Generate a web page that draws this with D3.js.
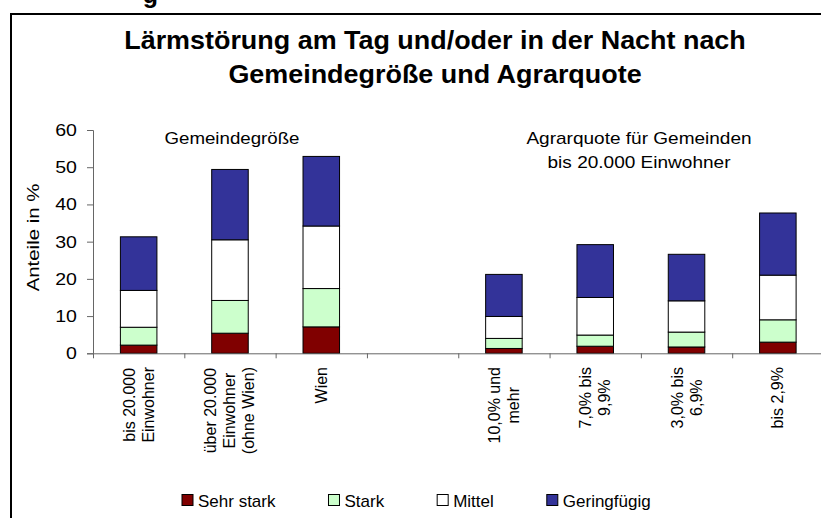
<!DOCTYPE html>
<html>
<head>
<meta charset="utf-8">
<script src="https://cdn.jsdelivr.net/npm/d3@7"></script>
<style>
  body { margin: 0; background: #fff; }
  svg { display: block; font-family: "Liberation Sans", Arial, sans-serif; }
</style>
</head>
<body>
<script>
// categories (blank slot separates the two groups)
var categories = ["bis20", "ueber20", "wien", "gap", "q10", "q7", "q3", "q0"];
var catLabels = [
    ["bis 20.000", "Einwohner"],
    ["über 20.000", "Einwohner", "(ohne Wien)"],
    ["Wien"],
    [],
    ["10,0% und", "mehr"],
    ["7,0% bis", "9,9%"],
    ["3,0% bis", "6,9%"],
    ["bis 2,9%"]
];
var seriesNames = ["Sehr stark", "Stark", "Mittel", "Geringfügig"];
var seriesColors = ["#800000", "#CCFFCC", "#FFFFFF", "#333399"];
var sehrStark   = [2.2, 5.4, 7.1, 0, 1.3, 1.9, 1.7, 3.0];
var stark       = [4.8, 8.8, 10.3, 0, 2.7, 3.0, 4.0, 6.0];
var mittel      = [9.9, 16.3, 16.8, 0, 5.9, 10.1, 8.4, 12.0];
var geringfuegig = [14.4, 18.9, 18.7, 0, 11.3, 14.2, 12.5, 16.7];
var yTicks = [0, 10, 20, 30, 40, 50, 60];

window.onload = function(){
    var w = 821, h = 518;
    var svg = d3.select("body").append("svg")
        .attr("width", w)
        .attr("height", h);

    // helper for horizontally stretched text (the original is a scaled EMF)
    function stretchedText(parent, x, y, sx, size, weight, txt){
        return parent.append("text")
            .attr("transform", "translate(" + x + "," + y + ") scale(" + sx + ",1)")
            .attr("text-anchor", "middle")
            .style("font-size", size + "px")
            .style("font-weight", weight)
            .text(txt);
    }

    // fragment of the heading above the chart, cut at the top
    svg.append("text")
        .attr("x", 158).attr("y", 3)
        .attr("text-anchor", "end")
        .style("font-size", "25px")
        .style("font-weight", "bold")
        .text("g");

    // frame (only top and left edges are inside the window)
    svg.append("rect")
        .attr("x", 11).attr("y", 14)
        .attr("width", 900).attr("height", 600)
        .style("fill", "none")
        .style("stroke", "#000")
        .style("stroke-width", 2);

    // title
    stretchedText(svg, 435, 49, 1.077, 25, "bold", "Lärmstörung am Tag und/oder in der Nacht nach");
    stretchedText(svg, 435, 82.5, 1.077, 25, "bold", "Gemeindegröße und Agrarquote");

    var x0 = 93, x1 = 823.5;
    var x = d3.scaleBand().domain(categories).range([x0, x1]);
    var xEdge = d3.scaleLinear().domain([0, categories.length]).range([x0, x1]);
    var y = d3.scaleLinear().domain([0, 60]).range([353.3, 130]);

    // stacked data
    var rows = categories.map(function(c, i){
        return {cat: c, s0: sehrStark[i], s1: stark[i], s2: mittel[i], s3: geringfuegig[i]};
    });
    var stack = d3.stack().keys(["s0", "s1", "s2", "s3"]);
    var layers = stack(rows);

    var barW = x.bandwidth() * 0.4;
    svg.selectAll(".layer")
        .data(layers)
        .enter()
        .append("g")
        .attr("class", "layer")
        .style("fill", function(d, i){ return seriesColors[i]; })
        .selectAll("rect")
        .data(function(d){ return d.filter(function(p){ return p[1] > p[0]; }); })
        .enter()
        .append("rect")
        .attr("x", function(d){ return x(d.data.cat) + (x.bandwidth() - barW) / 2; })
        .attr("width", barW)
        .attr("y", function(d){ return y(d[1]); })
        .attr("height", function(d){ return y(d[0]) - y(d[1]); })
        .style("stroke", "#000")
        .style("stroke-width", 1);

    // y axis
    var yAxis = d3.axisLeft(y).tickValues(yTicks).tickSize(6).tickPadding(8);
    var gy = svg.append("g")
        .attr("class", "axis")
        .attr("transform", "translate(" + x0 + ",0)")
        .call(yAxis);
    gy.select(".domain").style("stroke", "#666");
    gy.selectAll(".tick line").style("stroke", "#666");
    gy.selectAll(".tick text")
        .attr("transform", "scale(1.15,1)")
        .style("font-size", "17px")
        .style("font-family", "'Liberation Sans', Arial, sans-serif")
        .style("fill", "#000");

    // x axis with ticks on the category edges
    var xAxis = d3.axisBottom(xEdge)
        .tickValues(d3.range(categories.length + 1))
        .tickSize(5)
        .tickSizeOuter(0)
        .tickFormat("");
    var gx = svg.append("g")
        .attr("class", "axis")
        .attr("transform", "translate(0," + y(0) + ")")
        .call(xAxis);
    gx.select(".domain").style("stroke", "#666");
    gx.selectAll(".tick line").style("stroke", "#666");

    // rotated category labels, lines centred, block top at y = 367
    categories.forEach(function(c, i){
        var lines = catLabels[i];
        if (!lines.length) return;
        var g = svg.append("g");
        var texts = lines.map(function(t, k){
            return g.append("text")
                .attr("x", 0)
                .attr("y", (k - (lines.length - 1) / 2) * 19)
                .attr("text-anchor", "middle")
                .attr("dominant-baseline", "central")
                .style("font-size", "16px")
                .text(t);
        });
        var maxW = d3.max(texts, function(t){ return t.node().getComputedTextLength(); });
        g.attr("transform", "translate(" + (x(c) + x.bandwidth() / 2) + "," + (367 + maxW / 2) + ") rotate(-90)");
    });

    // y axis title
    svg.append("text")
        .attr("transform", "translate(33,237.5) rotate(-90) scale(1.2,1)")
        .attr("text-anchor", "middle")
        .attr("dominant-baseline", "central")
        .style("font-size", "17px")
        .text("Anteile in %");

    // group annotations
    stretchedText(svg, 232, 144, 1.1, 17, "normal", "Gemeindegröße");
    stretchedText(svg, 639, 144, 1.12, 17, "normal", "Agrarquote für Gemeinden");
    stretchedText(svg, 639, 167.5, 1.12, 17, "normal", "bis 20.000 Einwohner");

    // legend
    var lx = 182;
    var legend = svg.append("g").attr("class", "legend");
    seriesNames.forEach(function(name, i){
        legend.append("rect")
            .attr("x", lx).attr("y", 494.5)
            .attr("width", 11).attr("height", 11)
            .style("fill", seriesColors[i])
            .style("stroke", "#000")
            .style("stroke-width", 1);
        var t = legend.append("text")
            .attr("x", lx + 16).attr("y", 506.5)
            .style("font-size", "17px")
            .text(name);
        lx += 16 + t.node().getComputedTextLength() + 53;
    });
};
</script>
</body>
</html>
